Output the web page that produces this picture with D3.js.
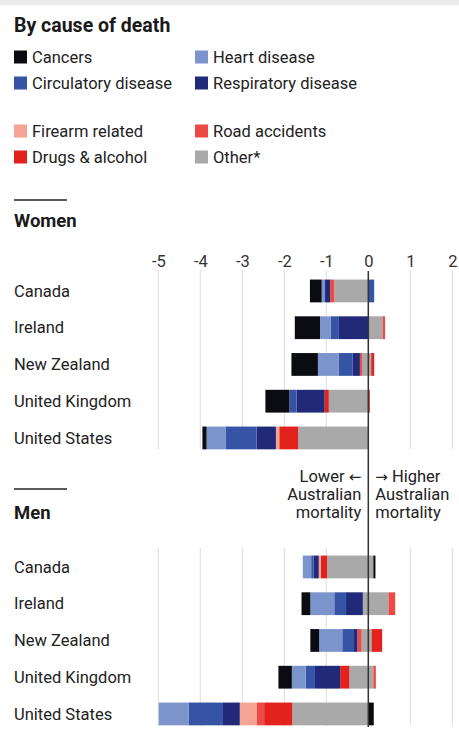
<!DOCTYPE html>
<html>
<head>
<meta charset="utf-8">
<script src="https://cdn.jsdelivr.net/npm/d3@7"></script>
<style>
  html, body { margin: 0; padding: 0; background: #fff; }
  svg { display: block; font-family: Roboto, "Noto Sans", sans-serif; }
</style>
</head>
<body>
<svg id="chart" width="459" height="742"></svg>
<script>
// ---- data ----
const countries = ["Canada", "Ireland", "New Zealand", "United Kingdom", "United States"];
const ticks = [-5, -4, -3, -2, -1, 0, 1, 2];

const categories = ["Cancers", "Heart disease", "Circulatory disease", "Respiratory disease",
                    "Firearm related", "Road accidents", "Drugs & alcohol", "Other*"];
const catColors = ["#0b0b12", "#7b95cc", "#3653a6", "#212a78", "#f5a393", "#ec4b45", "#e2231d", "#a9a9a9"];

// Women, years of life expectancy difference by cause (order: countries)
const womenCancers     = [-0.28, -0.60, -0.63, -0.57, -0.10];
const womenHeart       = [-0.08, -0.25, -0.50,  0.00, -0.46];
const womenCirculatory = [ 0.14, -0.20, -0.33, -0.17, -0.73];
const womenRespiratory = [-0.12, -0.70, -0.17, -0.67, -0.46];
const womenFirearm     = [ 0.00,  0.00,  0.00,  0.00, -0.08];
const womenRoad        = [-0.10,  0.06, -0.05,  0.04,  0.00];
const womenDrugs       = [ 0.00,  0.00,  0.07, -0.10, -0.45];
const womenOtherNeg    = [-0.81,  0.00, -0.15, -0.94, -1.67];
const womenOtherPos    = [ 0.00,  0.34,  0.07,  0.00,  0.00];

// Men
const menCancers     = [ 0.05, -0.21, -0.21, -0.32,  0.13];
const menHeart       = [-0.20, -0.57, -0.55, -0.33, -0.71];
const menCirculatory = [-0.06, -0.28, -0.26, -0.22, -0.82];
const menRespiratory = [-0.12, -0.40, -0.10, -0.60, -0.40];
const menFirearm     = [-0.05,  0.00,  0.00,  0.00, -0.41];
const menRoad        = [ 0.00,  0.16, -0.10,  0.06, -0.17];
const menDrugs       = [-0.15,  0.00,  0.25, -0.22, -0.67];
const menOtherNeg    = [-0.98, -0.13, -0.16, -0.45, -1.81];
const menOtherPos    = [ 0.12,  0.48,  0.08,  0.12,  0.00];

// ---- build tables ----
// stack order: nearest to zero first
const stackKeys = ["OtherNeg", "OtherPos", "Drugs", "Road", "Firearm", "Respiratory", "Circulatory", "Heart", "Cancers"];
const keyColor = {
  Cancers: catColors[0], Heart: catColors[1], Circulatory: catColors[2], Respiratory: catColors[3],
  Firearm: catColors[4], Road: catColors[5], Drugs: catColors[6], OtherNeg: catColors[7], OtherPos: catColors[7]
};
function table(c, h, ci, r, f, ro, d, on, op) {
  return countries.map((name, i) => ({
    country: name, Cancers: c[i], Heart: h[i], Circulatory: ci[i], Respiratory: r[i],
    Firearm: f[i], Road: ro[i], Drugs: d[i], OtherNeg: on[i], OtherPos: op[i]
  }));
}
const women = table(womenCancers, womenHeart, womenCirculatory, womenRespiratory, womenFirearm, womenRoad, womenDrugs, womenOtherNeg, womenOtherPos);
const men = table(menCancers, menHeart, menCirculatory, menRespiratory, menFirearm, menRoad, menDrugs, menOtherNeg, menOtherPos);

// ---- drawing ----
const svg = d3.select("#chart");
const textColor = "#1a1a1a";

svg.append("rect").attr("x", 0).attr("y", 0).attr("width", 459).attr("height", 5).attr("fill", "#ececec");

svg.append("text").attr("x", 14).attr("y", 32).attr("font-size", 19.5).attr("font-weight", 700)
  .attr("fill", textColor).text("By cause of death");

// legend
const legendRows = [57, 83, 131, 157];
const legendOrder = [[0, 1], [2, 3], [4, 5], [6, 7]];
const lg = svg.append("g");
legendOrder.forEach((pair, row) => {
  pair.forEach((ci, col) => {
    const lx = col === 0 ? 14 : 195;
    const ly = legendRows[row];
    lg.append("rect").attr("x", lx).attr("y", ly - 6.5).attr("width", 13).attr("height", 13).attr("fill", catColors[ci]);
    lg.append("text").attr("x", lx + 18).attr("y", ly).attr("dy", "0.35em").attr("font-size", 16.5)
      .attr("fill", "#222").text(categories[ci]);
  });
});

const x = d3.scaleLinear().domain([-5, 2]).range([158.3, 452.3]);

const stack = d3.stack().keys(stackKeys).offset(d3.stackOffsetDiverging);

function section(data, title, lineY, titleY, r0, r1, gridTop, gridBottom) {
  const y = d3.scaleBand().domain(countries).range([r0, r1]).padding(0.38);
  const g = svg.append("g");
  g.append("line").attr("x1", 14).attr("x2", 67).attr("y1", lineY).attr("y2", lineY)
    .attr("stroke", "#222").attr("stroke-width", 1.5);
  g.append("text").attr("x", 14).attr("y", titleY).attr("font-size", 18.5).attr("font-weight", 700)
    .attr("fill", textColor).text(title);
  // grid
  g.selectAll("line.grid").data(ticks.filter(t => t !== 0)).join("line")
    .attr("class", "grid")
    .attr("x1", d => x(d)).attr("x2", d => x(d))
    .attr("y1", gridTop).attr("y2", gridBottom)
    .attr("stroke", "#dcdcdc").attr("stroke-width", 1);
  // country labels
  g.selectAll("text.country").data(countries).join("text")
    .attr("class", "country")
    .attr("x", 14).attr("y", d => y(d) + y.bandwidth() / 2).attr("dy", "0.35em")
    .attr("font-size", 16.5).attr("fill", "#222").text(d => d);
  // bars
  const series = stack(data);
  g.selectAll("g.series").data(series).join("g")
    .attr("class", "series")
    .attr("fill", d => keyColor[d.key])
    .selectAll("rect").data(d => d).join("rect")
    .attr("x", d => x(Math.min(d[0], d[1])))
    .attr("width", d => Math.abs(x(d[1]) - x(d[0])))
    .attr("y", d => y(d.data.country))
    .attr("height", y.bandwidth());
}

// axis labels
const axisG = svg.append("g").attr("transform", "translate(0,267)");
const axis = d3.axisTop(x).tickValues(ticks).tickSize(0).tickPadding(0).tickFormat(d3.format("d"));
axisG.call(axis);
axisG.select(".domain").remove();
axisG.selectAll("text").attr("font-size", 16.5).attr("fill", "#333")
  .attr("font-family", "Roboto, sans-serif").attr("dy", 0)
  .text(d => d < 0 ? "-" + Math.abs(d) : d);

section(women, "Women", 200, 227, 265.6, 463.3, 270, 449);
section(men, "Men", 489, 519, 541.6, 739.3, 548, 726);

// zero line
svg.append("line").attr("x1", x(0)).attr("x2", x(0)).attr("y1", 271).attr("y2", 727)
  .attr("stroke", "#333").attr("stroke-width", 1.5);

// annotation
const ann = svg.append("g").attr("font-size", 16.5).attr("fill", "#222");
const l0 = ann.append("text").attr("x", x(0) - 7).attr("y", 482).attr("text-anchor", "end");
l0.append("tspan").text("Lower ");
l0.append("tspan").attr("font-family", "DejaVu Sans").attr("font-size", 15).text("\u2190");
const r0 = ann.append("text").attr("x", x(0) + 7).attr("y", 482).attr("text-anchor", "start");
r0.append("tspan").attr("font-family", "DejaVu Sans").attr("font-size", 15).text("\u2192");
r0.append("tspan").text(" Higher");
["Australian", "mortality"].forEach((t, i) => {
  ann.append("text").attr("x", x(0) - 7).attr("y", 500 + i * 18).attr("text-anchor", "end").text(t);
  ann.append("text").attr("x", x(0) + 7).attr("y", 500 + i * 18).attr("text-anchor", "start").text(t);
});
</script>
</body>
</html>
